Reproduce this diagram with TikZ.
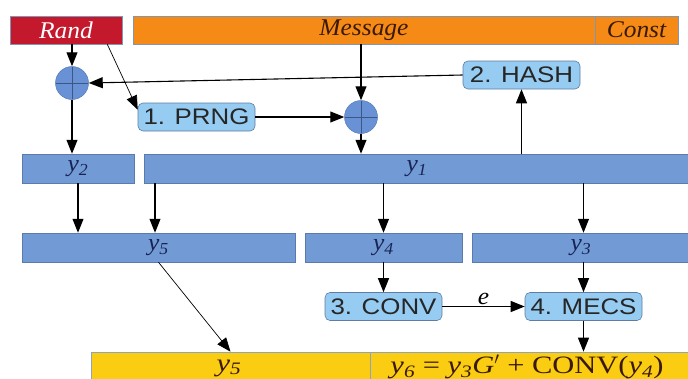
\documentclass[tikz,border=0pt]{standalone}
\usepackage{fontspec}
\setmainfont{Liberation Serif}[FakeStretch=1.06]
\setsansfont{Liberation Sans}[FakeStretch=1.15]
\newfontfamily\wideserif{Liberation Serif}[FakeStretch=1.22]
\usetikzlibrary{arrows.meta,calc}
\definecolor{randred}{RGB}{196,24,44}
\definecolor{msgorange}{RGB}{246,138,22}
\definecolor{boxblue}{RGB}{114,155,214}
\definecolor{boxedge}{RGB}{92,122,172}
\definecolor{procblue}{RGB}{150,204,242}
\definecolor{procedge}{RGB}{96,124,160}
\definecolor{circblue}{RGB}{104,145,214}
\definecolor{ylw}{RGB}{250,204,18}
\definecolor{txtbrown}{RGB}{58,26,6}
\definecolor{txtnavy}{RGB}{24,36,84}
\newcommand\vy[1]{\textit{y}\textsubscript{\textit{#1}}}
\begin{document}
\begin{tikzpicture}[x=1pt,y=-1pt,
  lbl/.style={font=\fontsize{24}{26}\selectfont\itshape},
  topbox/.style={draw=procedge!80, line width=0.6pt, minimum height=28pt, inner sep=0pt},
  ybox/.style={fill=boxblue, draw=boxedge, line width=0.5pt, minimum height=29pt, inner sep=0pt, text=txtnavy, font=\fontsize{24}{26}\selectfont},
  proc/.style={fill=procblue, draw=procedge, line width=0.6pt, rounded corners=5pt, minimum width=117pt, minimum height=28pt, inner sep=0pt, font=\sffamily\fontsize{22.5}{24}\selectfont, text=black!85},
  xor/.style={circle, minimum size=33pt, inner sep=0pt, fill=circblue, draw=circblue!85!black, line width=0.5pt,
    path picture={\draw[circblue!60!black, line width=0.6pt] (path picture bounding box.north) -- (path picture bounding box.south) (path picture bounding box.west) -- (path picture bounding box.east);}},
  ylwbox/.style={fill=ylw, draw=procedge!70, line width=0.6pt, minimum height=60pt, inner sep=0pt},
  arr/.style={draw=black, line width=1.1pt, -{Triangle[length=14pt,width=11pt]}},
  thinarr/.style={draw=black, line width=0.7pt, -{Triangle[length=14pt,width=11pt]}}
]
\useasboundingbox (0,0) rectangle (688,378);
\clip (0,0) rectangle (688,378);

% top row
\node[topbox, fill=randred, minimum width=112pt, lbl, text=white] (rand) at (66,30) {Rand};
\node[topbox, fill=msgorange, minimum width=462pt, lbl, text=txtbrown] (msg) at (364,30) {Message};
\node[topbox, fill=msgorange, minimum width=83pt, lbl, text=txtbrown] (const) at (636.5,30) {Const};

% xor circles and processes
\node[xor] (xl) at (72,83) {};
\node[xor] (xm) at (361,117) {};
\node[proc] (hash) at (521.5,75) {2. HASH};
\node[proc] (prng) at (196.5,117) {1. PRNG};

% y rows
\node[ybox, minimum width=112pt] (y2) at (78,168.5) {\vy{2}};
\node[ybox, minimum width=546pt] (y1) at (417,168.5) {\vy{1}};
\node[ybox, minimum width=273pt] (y5) at (158.5,247.5) {\vy{5}};
\node[ybox, minimum width=157pt] (y4) at (383.5,247.5) {\vy{4}};
\node[ybox, minimum width=218pt] (y3) at (581,247.5) {\vy{3}};

% step 3 and 4
\node[proc] (conv) at (383.5,306.5) {3. CONV};
\node[proc] (mecs) at (583.5,306.5) {4. MECS};

% bottom row
\node[ylwbox, minimum width=279pt] (yl) at (230.5,382) {};
\node[ylwbox, minimum width=320pt] (yr) at (530,382) {};
\node[font=\wideserif\fontsize{25}{28}\selectfont, text=txtbrown] (l5) at (229,368) {\vy{5}};
\node[font=\wideserif\fontsize{25}{28}\selectfont, text=txtbrown] (l6) at (527,367) {\vy{6} = \vy{3}\textit{G}$'$ + CONV(\vy{4})};

% connectors
\draw[arr] (rand.south -| xl) -- (xl.north);
\draw[thinarr] ([xshift=-15pt]rand.south east) -- ([yshift=-7pt]prng.north west);
\draw[arr] (hash.west) -- (xl.east);
\draw[arr] (msg.south -| xm) -- (xm.north);
\draw[arr] (prng.east) -- (xm.west);
\draw[arr] (xm.south) -- (xm.south |- y1.north);
\draw[arr] (y1.north -| hash.south) -- (hash.south);
\draw[arr] (xl.south) -- (xl.south |- y2.north);
\draw[arr] (y2.south) -- (y2.south |- y5.north);
\coordinate (c155) at (155,0);
\draw[arr] (y1.south -| c155) -- (c155 |- y5.north);
\draw[arr] (y1.south -| y4) -- (y4.north);
\draw[arr] (y1.south -| mecs) -- (y3.north -| mecs);
\draw[arr] (y4.south) -- (conv.north);
\draw[arr] (y3.south -| mecs) -- (mecs.north);
\draw[arr] (conv.east) -- node[above, font=\fontsize{24}{26}\selectfont\itshape, inner sep=1pt] (elbl) {e} (mecs.west);
\draw[arr] (mecs.south) -- (mecs.south |- yr.north);
\draw[thinarr] (y5.south) -- (yl.north);
\end{tikzpicture}
\end{document}
